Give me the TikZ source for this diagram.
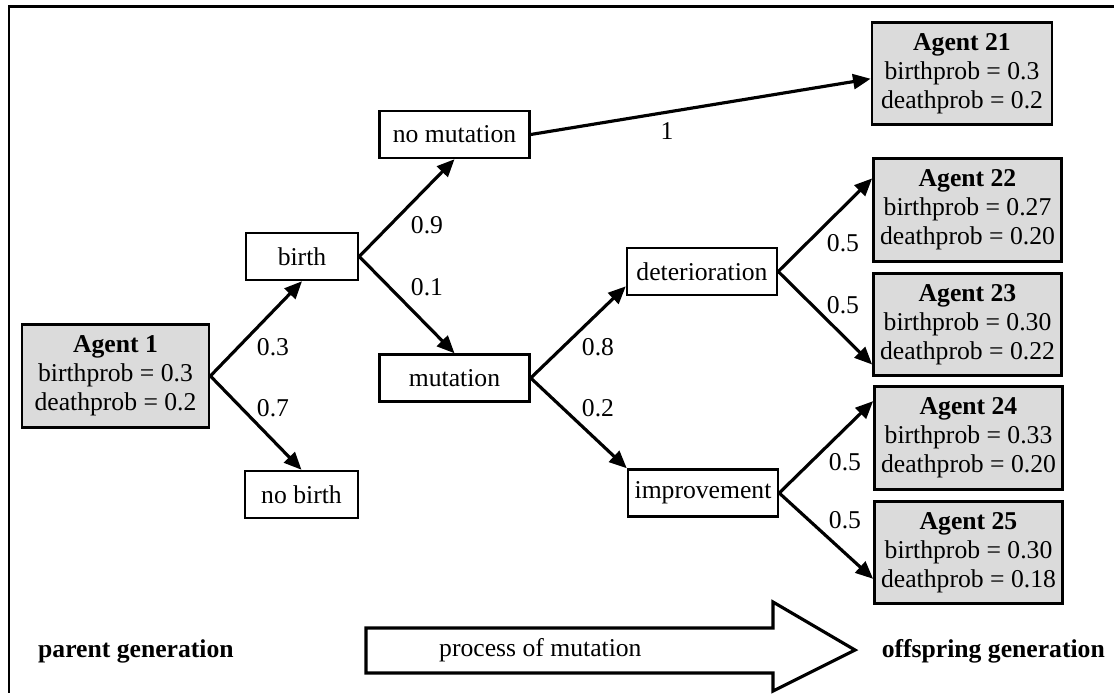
\documentclass[tikz,border=0pt]{standalone}
\usepackage{fontspec}
\setmainfont{Liberation Serif}
\usetikzlibrary{arrows.meta, calc}

\begin{document}
\begin{tikzpicture}[x=0.02cm, y=-0.02cm,
    every node/.style={font=\fontsize{14.6}{16.5}\selectfont},
    agent/.style={draw, line width=1.6pt, fill=black!14, align=center,
        minimum width=3.76cm, minimum height=2.05cm, inner sep=1pt},
    event/.style={draw, line width=1.4pt, minimum width=3cm,
        minimum height=0.94cm, inner sep=2pt},
    branch/.style={line width=1.8pt, -{Triangle[length=10pt,width=8.5pt]}}]
    \useasboundingbox (0,0) rectangle (1114,693);

    % frame, open at right and bottom
    \draw[line width=1.5pt] (1114,6.5) -- (9,6.5) -- (9,693);

    % parent generation
    \node[agent, minimum width=3.74cm] (a1) at (115.5,376) {\textbf{Agent 1}\\birthprob = 0.3\\deathprob = 0.2};

    % events
    \node[event, minimum width=2.24cm] (birth) at (302,256.5) {birth};
    \node[event, minimum width=2.26cm] (nobirth) at (301.5,494.5) {no birth};
    \node[event] (nomut) at (454.5,134.5) {no mutation};
    \node[event] (mut) at (454.5,378) {mutation};
    \node[event] (deter) at (702,271.5) {deterioration};
    \node[event] (improv) at (703,493) {improvement};

    % offspring generation
    \node[agent, minimum width=3.6cm] (a21) at (962,73.5) {\textbf{Agent 21}\\birthprob = 0.3\\deathprob = 0.2};
    \node[agent] (a22) at (967.5,210) {\textbf{Agent 22}\\birthprob = 0.27\\deathprob = 0.20};
    \node[agent] (a23) at (967.5,324.5) {\textbf{Agent 23}\\birthprob = 0.30\\deathprob = 0.22};
    \node[agent] (a24) at (968.5,438) {\textbf{Agent 24}\\birthprob = 0.33\\deathprob = 0.20};
    \node[agent] (a25) at (968.5,552.5) {\textbf{Agent 25}\\birthprob = 0.30\\deathprob = 0.18};

    % branches
    \draw[branch] (a1.east) -- (birth.south);
    \draw[branch] (a1.east) -- (nobirth.north);
    \draw[branch] (birth.east) -- (nomut.south);
    \draw[branch] (birth.east) -- (mut.north);
    \draw[branch] (nomut.east) -- ($(a21.north west)!0.55!(a21.south west)$);
    \draw[branch] (mut.east) -- ($(deter.west)!0.6!(deter.south west)$);
    \draw[branch] (mut.east) -- (improv.north west);
    \draw[branch] (deter.east) -- ($(a22.north west)!0.2!(a22.south west)$);
    \draw[branch] (deter.east) -- ($(a23.north west)!0.88!(a23.south west)$);
    \draw[branch] (improv.east) -- ($(a24.north west)!0.15!(a24.south west)$);
    \draw[branch] (improv.east) -- ($(a25.north west)!0.75!(a25.south west)$);

    % probabilities
    \node (p03) at (273,347) {0.3};
    \node (p07) at (273,408) {0.7};
    \node (p09) at (427,225) {0.9};
    \node (p01) at (427,287) {0.1};
    \node (p1) at (667,131) {1};
    \node (p08) at (598,347) {0.8};
    \node (p02) at (598,408) {0.2};
    \node (p22) at (843,243) {0.5};
    \node (p23) at (843,305) {0.5};
    \node (p24) at (845,462) {0.5};
    \node (p25) at (845,520) {0.5};

    % bottom row
    \node[anchor=west, font=\fontsize{14.6}{16.5}\selectfont\bfseries] (parent) at (32,651) {parent generation};
    \node[anchor=east, font=\fontsize{14.6}{16.5}\selectfont\bfseries] (offspring) at (1111,651) {offspring generation};
    \draw[line width=1.8pt, fill=white] (366,628) -- (773,628) -- (773,602) -- (855,650)
        -- (773,691) -- (773,673) -- (366,673) -- cycle;
    \node[anchor=west] (process) at (433,650) {process of mutation};
\end{tikzpicture}
\end{document}
